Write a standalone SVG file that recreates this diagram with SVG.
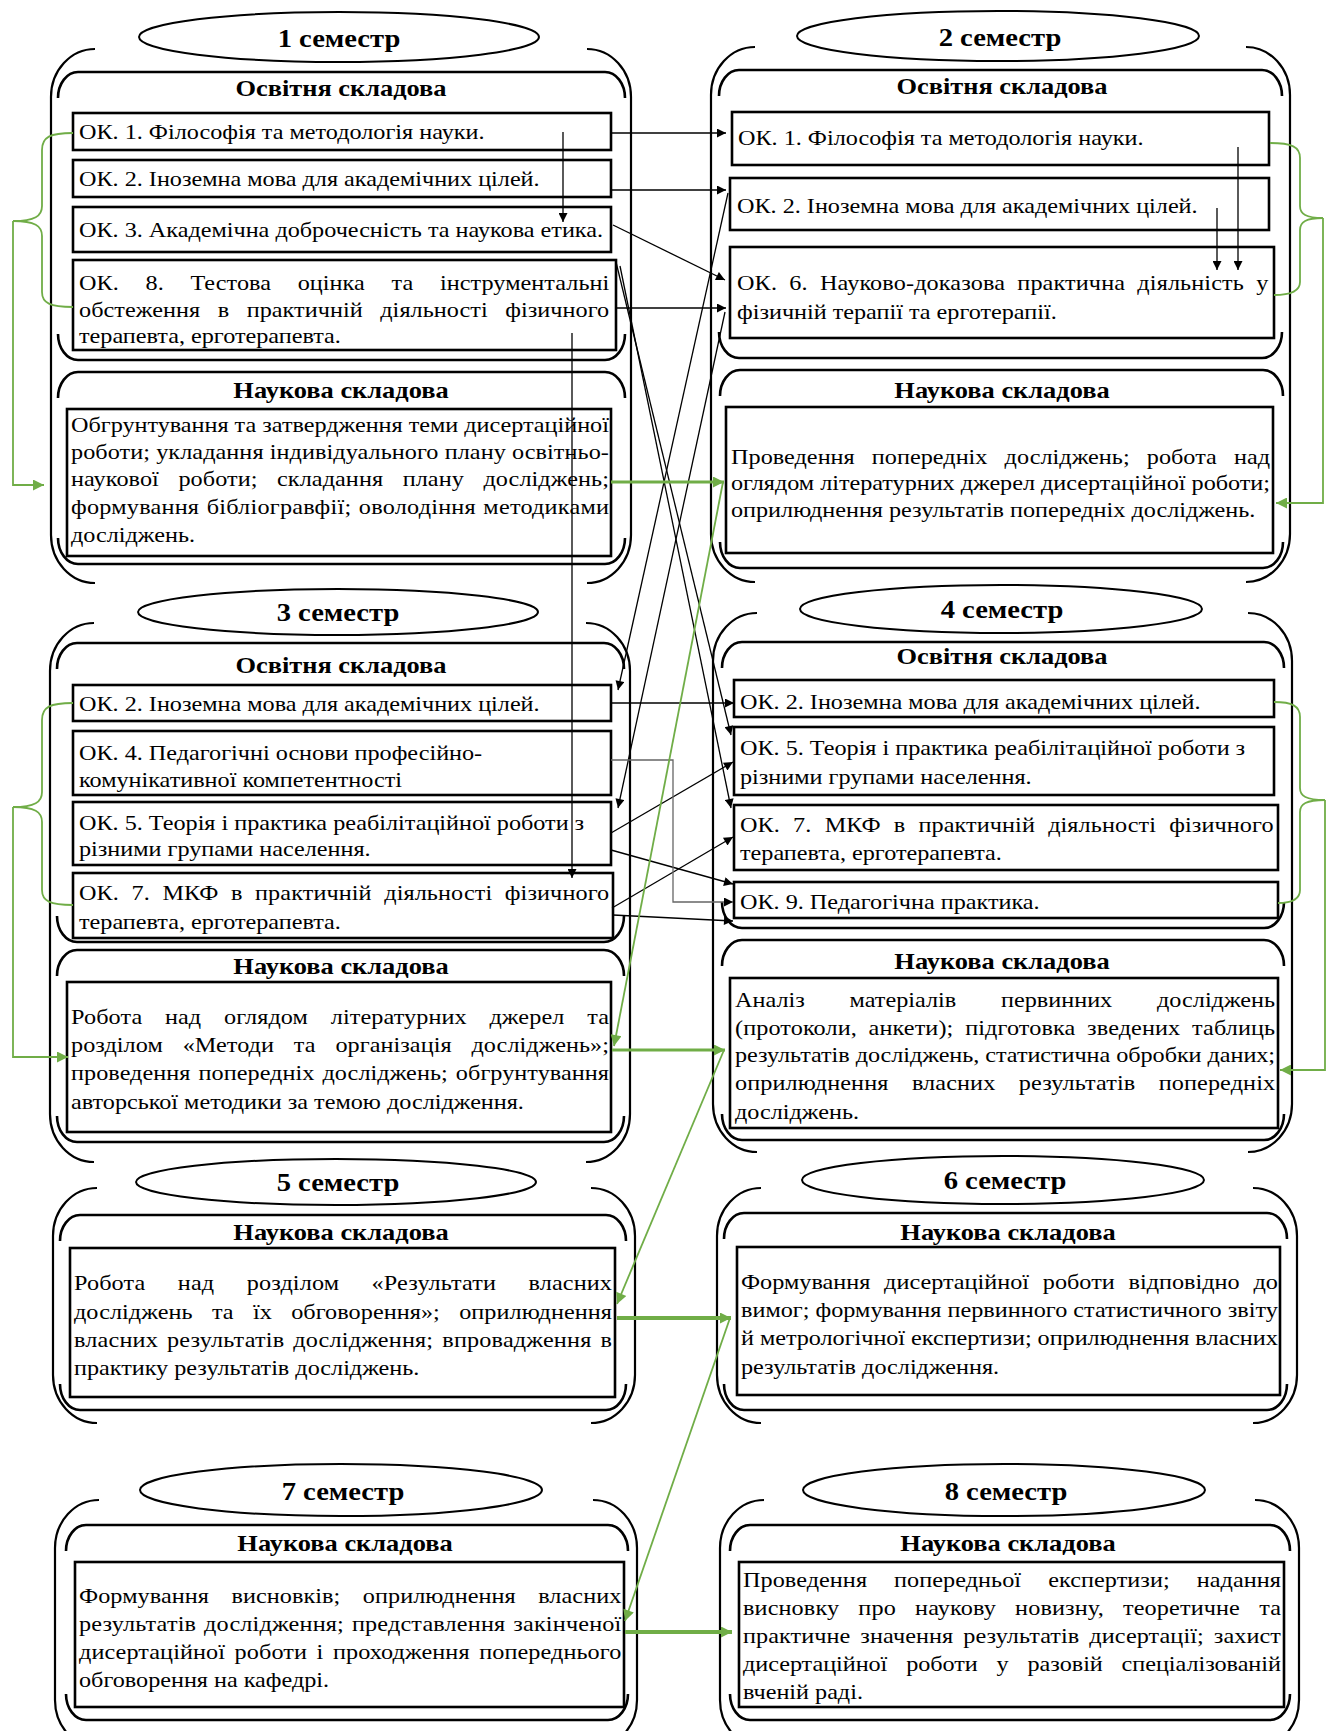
<svg xmlns="http://www.w3.org/2000/svg" width="1331" height="1731" viewBox="0 0 1331 1731">
<style>
.bg{fill:#fff}
.ob{fill:none;stroke:#000;stroke-width:2.2}
.ib{fill:none;stroke:#000;stroke-width:2.6}
.bx{fill:#fff;stroke:#000;stroke-width:2.6}
.el{fill:#fff;stroke:#000;stroke-width:2}
.t{font-family:"Liberation Serif","Times New Roman",serif;font-size:22px;fill:#000}
.h{font-family:"Liberation Serif","Times New Roman",serif;font-size:24px;font-weight:bold;text-anchor:middle;fill:#000}
.s{font-family:"Liberation Serif","Times New Roman",serif;font-size:26px;font-weight:bold;text-anchor:middle;fill:#000}
.c{fill:none;stroke:#000;stroke-width:1.3;marker-end:url(#ab)}
.cg{fill:none;stroke:#666;stroke-width:1.3;marker-end:url(#ab)}
.g{fill:none;stroke:#70AD47;stroke-width:1.8}
.ga{fill:none;stroke:#70AD47;stroke-width:1.8;marker-end:url(#ag)}
.g3{fill:none;stroke:#70AD47;stroke-width:3;marker-end:url(#ag)}
.g4{fill:none;stroke:#70AD47;stroke-width:4;marker-end:url(#ag)}
</style>
<defs>
<marker id="ab" viewBox="0 0 10 10" refX="10" refY="5" markerWidth="11" markerHeight="9" markerUnits="userSpaceOnUse" orient="auto"><path d="M0,0 L10,5 L0,10 z" fill="#000"/></marker>
<marker id="ag" viewBox="0 0 10 10" refX="10" refY="5" markerWidth="13" markerHeight="11" markerUnits="userSpaceOnUse" orient="auto"><path d="M0,0 L10,5 L0,10 z" fill="#70AD47"/></marker>
</defs>
<rect class="bg" x="0" y="0" width="1331" height="1731"/>

<!-- Semester 1 -->
<g id="sem1">
<path class="ob" d="M95,49 A44,48 0 0 0 51,97 V535 A44,48 0 0 0 95,583 M587,49 A44,48 0 0 1 631,97 V535 A44,48 0 0 1 587,583"/>
<ellipse class="el" cx="339" cy="37" rx="200" ry="25"/>
<text class="s" transform="translate(339 47) scale(1.1 1)">1 семестр</text>
<g id="sem1-osv">
<path class="ib" d="M58,98 A20,26 0 0 1 78,72 H605 A20,26 0 0 1 625,98 M58,334 A20,26 0 0 0 78,360 H605 A20,26 0 0 0 625,334"/>
<text class="h" transform="translate(341 96) scale(1.1 1)">Освітня складова</text>
</g>
<g id="s1-ok1"><rect class="bx" x="73" y="113" width="538" height="37"/><text class="t" transform="translate(79 139) scale(1.1 1)">ОК. 1. Філософія та методологія науки.</text></g>
<g id="s1-ok2"><rect class="bx" x="73" y="160" width="538" height="37"/><text class="t" transform="translate(79 186) scale(1.1 1)">ОК. 2. Іноземна мова для академічних цілей.</text></g>
<g id="s1-ok3"><rect class="bx" x="73" y="207" width="538" height="45"/><text class="t" transform="translate(79 237) scale(1.1 1)">ОК. 3. Академічна доброчесність та наукова етика.</text></g>
<g id="s1-ok8"><rect class="bx" x="73" y="260" width="543" height="90"/>
<text class="t" transform="translate(79 290) scale(1.1 1)" style="word-spacing:18.7px" textLength="482" lengthAdjust="spacing">ОК. 8. Тестова оцінка та інструментальні</text>
<text class="t" transform="translate(79 317) scale(1.1 1)" style="word-spacing:10.4px" textLength="482" lengthAdjust="spacing">обстеження в практичній діяльності фізичного</text>
<text class="t" transform="translate(79 343) scale(1.1 1)">терапевта, ерготерапевта.</text></g>
<g id="s1-nauk">
<path class="ib" d="M58,398 A20,26 0 0 1 78,372 H605 A20,26 0 0 1 625,398 M58,538 A20,26 0 0 0 78,564 H605 A20,26 0 0 0 625,538"/>
<text class="h" transform="translate(341 398) scale(1.1 1)">Наукова складова</text>
<rect class="bx" x="67" y="409" width="544" height="147"/>
<text class="t" transform="translate(71 432) scale(1.1 1)" textLength="489" lengthAdjust="spacing">Обгрунтування та затвердження теми дисертаційної</text>
<text class="t" transform="translate(71 459) scale(1.1 1)" textLength="489" lengthAdjust="spacing">роботи; укладання індивідуального плану освітньо-</text>
<text class="t" transform="translate(71 486) scale(1.1 1)" style="word-spacing:12.2px" textLength="489" lengthAdjust="spacing">наукової роботи; складання плану досліджень;</text>
<text class="t" transform="translate(71 514) scale(1.1 1)" style="word-spacing:1px" textLength="489" lengthAdjust="spacing">формування бібліогравфії; оволодіння методиками</text>
<text class="t" transform="translate(71 542) scale(1.1 1)">досліджень.</text>
</g>
</g>

<!-- Semester 2 -->
<g id="sem2">
<path class="ob" d="M755,47 A44,48 0 0 0 711,95 V534 A44,48 0 0 0 755,582 M1246,47 A44,48 0 0 1 1290,95 V534 A44,48 0 0 1 1246,582"/>
<ellipse class="el" cx="998" cy="36" rx="201" ry="25"/>
<text class="s" transform="translate(1000 46) scale(1.1 1)">2 семестр</text>
<g id="sem2-osv">
<path class="ib" d="M719,96 A20,26 0 0 1 739,70 H1262 A20,26 0 0 1 1282,96 M719,332 A20,26 0 0 0 739,358 H1262 A20,26 0 0 0 1282,332"/>
<text class="h" transform="translate(1002 94) scale(1.1 1)">Освітня складова</text>
</g>
<g id="s2-ok1"><rect class="bx" x="732" y="112" width="537" height="53"/><text class="t" transform="translate(738 145) scale(1.1 1)">ОК. 1. Філософія та методологія науки.</text></g>
<g id="s2-ok2"><rect class="bx" x="730" y="178" width="539" height="52"/><text class="t" transform="translate(737 213) scale(1.1 1)">ОК. 2. Іноземна мова для академічних цілей.</text></g>
<g id="s2-ok6"><rect class="bx" x="730" y="247" width="544" height="91"/>
<text class="t" transform="translate(737 290) scale(1.1 1)" style="word-spacing:5.5px" textLength="483" lengthAdjust="spacing">ОК. 6. Науково-доказова практична діяльність у</text>
<text class="t" transform="translate(737 319) scale(1.1 1)">фізичній терапії та ерготерапії.</text></g>
<g id="s2-nauk">
<path class="ib" d="M720,396 A20,26 0 0 1 740,370 H1263 A20,26 0 0 1 1283,396 M720,542 A20,26 0 0 0 740,568 H1263 A20,26 0 0 0 1283,542"/>
<text class="h" transform="translate(1002 398) scale(1.1 1)">Наукова складова</text>
<rect class="bx" x="726" y="407" width="547" height="146"/>
<text class="t" transform="translate(731 464) scale(1.1 1)" style="word-spacing:10px" textLength="490" lengthAdjust="spacing">Проведення попередніх досліджень; робота над</text>
<text class="t" transform="translate(731 490) scale(1.1 1)" textLength="490" lengthAdjust="spacing">оглядом літературних джерел дисертаційної роботи;</text>
<text class="t" transform="translate(731 517) scale(1.1 1)">оприлюднення результатів попередніх досліджень.</text>
</g>
</g>

<!-- Semester 3 -->
<g id="sem3">
<path class="ob" d="M94,623 A44,48 0 0 0 50,671 V1114 A44,48 0 0 0 94,1162 M586,623 A44,48 0 0 1 630,671 V1114 A44,48 0 0 1 586,1162"/>
<ellipse class="el" cx="338" cy="612" rx="200" ry="23"/>
<text class="s" transform="translate(338 621) scale(1.1 1)">3 семестр</text>
<g id="sem3-osv">
<path class="ib" d="M57,669 A20,26 0 0 1 77,643 H604 A20,26 0 0 1 624,669 M57,916 A20,26 0 0 0 77,942 H604 A20,26 0 0 0 624,916"/>
<text class="h" transform="translate(341 673) scale(1.1 1)">Освітня складова</text>
</g>
<g id="s3-ok2"><rect class="bx" x="73" y="685" width="538" height="36"/><text class="t" transform="translate(79 711) scale(1.1 1)">ОК. 2. Іноземна мова для академічних цілей.</text></g>
<g id="s3-ok4"><rect class="bx" x="73" y="731" width="538" height="64"/>
<text class="t" transform="translate(79 760) scale(1.1 1)">ОК. 4. Педагогічні основи професійно-</text>
<text class="t" transform="translate(79 787) scale(1.1 1)">комунікативної компетентності</text></g>
<g id="s3-ok5"><rect class="bx" x="73" y="802" width="538" height="63"/>
<text class="t" transform="translate(79 830) scale(1.1 1)">ОК. 5. Теорія і практика реабілітаційної роботи з</text>
<text class="t" transform="translate(79 856) scale(1.1 1)">різними групами населення.</text></g>
<g id="s3-ok7"><rect class="bx" x="73" y="873" width="540" height="65"/>
<text class="t" transform="translate(79 900) scale(1.1 1)" style="word-spacing:5.8px" textLength="482" lengthAdjust="spacing">ОК. 7. МКФ в практичній діяльності фізичного</text>
<text class="t" transform="translate(79 929) scale(1.1 1)">терапевта, ерготерапевта.</text></g>
<g id="s3-nauk">
<path class="ib" d="M57,976 A20,26 0 0 1 77,950 H604 A20,26 0 0 1 624,976 M57,1116 A20,26 0 0 0 77,1142 H604 A20,26 0 0 0 624,1116"/>
<text class="h" transform="translate(341 974) scale(1.1 1)">Наукова складова</text>
<rect class="bx" x="67" y="982" width="544" height="150"/>
<text class="t" transform="translate(71 1024) scale(1.1 1)" style="word-spacing:15.1px" textLength="489" lengthAdjust="spacing">Робота над оглядом літературних джерел та</text>
<text class="t" transform="translate(71 1052) scale(1.1 1)" style="word-spacing:12.5px" textLength="489" lengthAdjust="spacing">розділом «Методи та організація досліджень»;</text>
<text class="t" transform="translate(71 1080) scale(1.1 1)" style="word-spacing:1.8px" textLength="489" lengthAdjust="spacing">проведення попередніх досліджень; обгрунтування</text>
<text class="t" transform="translate(71 1109) scale(1.1 1)">авторської методики за темою дослідження.</text>
</g>
</g>

<!-- Semester 4 -->
<g id="sem4">
<path class="ob" d="M757,613 A44,48 0 0 0 713,661 V1104 A44,48 0 0 0 757,1152 M1248,613 A44,48 0 0 1 1292,661 V1104 A44,48 0 0 1 1248,1152"/>
<ellipse class="el" cx="1001" cy="609" rx="201" ry="24"/>
<text class="s" transform="translate(1002 618) scale(1.1 1)">4 семестр</text>
<g id="sem4-osv">
<path class="ib" d="M722,668 A20,26 0 0 1 742,642 H1264 A20,26 0 0 1 1284,668 M722,902 A20,26 0 0 0 742,928 H1264 A20,26 0 0 0 1284,902"/>
<text class="h" transform="translate(1002 664) scale(1.1 1)">Освітня складова</text>
</g>
<g id="s4-ok2"><rect class="bx" x="734" y="680" width="540" height="37"/><text class="t" transform="translate(740 709) scale(1.1 1)">ОК. 2. Іноземна мова для академічних цілей.</text></g>
<g id="s4-ok5"><rect class="bx" x="734" y="727" width="540" height="68"/>
<text class="t" transform="translate(740 755) scale(1.1 1)">ОК. 5. Теорія і практика реабілітаційної роботи з</text>
<text class="t" transform="translate(740 784) scale(1.1 1)">різними групами населення.</text></g>
<g id="s4-ok7"><rect class="bx" x="734" y="805" width="544" height="65"/>
<text class="t" transform="translate(740 832) scale(1.1 1)" style="word-spacing:6.4px" textLength="485" lengthAdjust="spacing">ОК. 7. МКФ в практичній діяльності фізичного</text>
<text class="t" transform="translate(740 860) scale(1.1 1)">терапевта, ерготерапевта.</text></g>
<g id="s4-ok9"><rect class="bx" x="734" y="882" width="544" height="36"/><text class="t" transform="translate(740 909) scale(1.1 1)">ОК. 9. Педагогічна практика.</text></g>
<g id="s4-nauk">
<path class="ib" d="M722,966 A20,26 0 0 1 742,940 H1264 A20,26 0 0 1 1284,966 M722,1114 A20,26 0 0 0 742,1140 H1264 A20,26 0 0 0 1284,1114"/>
<text class="h" transform="translate(1002 969) scale(1.1 1)">Наукова складова</text>
<rect class="bx" x="730" y="978" width="548" height="150"/>
<text class="t" transform="translate(735 1007) scale(1.1 1)" style="word-spacing:35.2px" textLength="491" lengthAdjust="spacing">Аналіз матеріалів первинних досліджень</text>
<text class="t" transform="translate(735 1035) scale(1.1 1)" style="word-spacing:5.1px" textLength="491" lengthAdjust="spacing">(протоколи, анкети); підготовка зведених таблиць</text>
<text class="t" transform="translate(735 1062) scale(1.1 1)" textLength="491" lengthAdjust="spacing">результатів досліджень, статистична обробки даних;</text>
<text class="t" transform="translate(735 1090) scale(1.1 1)" style="word-spacing:15.7px" textLength="491" lengthAdjust="spacing">оприлюднення власних результатів попередніх</text>
<text class="t" transform="translate(735 1119) scale(1.1 1)">досліджень.</text>
</g>
</g>

<!-- Semester 5 -->
<g id="sem5">
<path class="ob" d="M97,1188 A44,48 0 0 0 53,1236 V1375 A44,48 0 0 0 97,1423 M591,1188 A44,48 0 0 1 635,1236 V1375 A44,48 0 0 1 591,1423"/>
<ellipse class="el" cx="336" cy="1182" rx="200" ry="23"/>
<text class="s" transform="translate(338 1191) scale(1.1 1)">5 семестр</text>
<g id="s5-nauk">
<path class="ib" d="M60,1241 A20,26 0 0 1 80,1215 H606 A20,26 0 0 1 626,1241 M60,1384 A20,26 0 0 0 80,1410 H606 A20,26 0 0 0 626,1384"/>
<text class="h" transform="translate(341 1240) scale(1.1 1)">Наукова складова</text>
<rect class="bx" x="70" y="1248" width="545" height="149"/>
<text class="t" transform="translate(74 1290) scale(1.1 1)" style="word-spacing:23.9px" textLength="489" lengthAdjust="spacing">Робота над розділом «Результати власних</text>
<text class="t" transform="translate(74 1319) scale(1.1 1)" style="word-spacing:12px" textLength="489" lengthAdjust="spacing">досліджень та їх обговорення»; оприлюднення</text>
<text class="t" transform="translate(74 1347) scale(1.1 1)" style="word-spacing:2.5px" textLength="489" lengthAdjust="spacing">власних результатів дослідження; впровадження в</text>
<text class="t" transform="translate(74 1375) scale(1.1 1)">практику результатів досліджень.</text>
</g>
</g>

<!-- Semester 6 -->
<g id="sem6">
<path class="ob" d="M761,1188 A44,48 0 0 0 717,1236 V1375 A44,48 0 0 0 761,1423 M1253,1188 A44,48 0 0 1 1297,1236 V1375 A44,48 0 0 1 1253,1423"/>
<ellipse class="el" cx="1003" cy="1180" rx="201" ry="24"/>
<text class="s" transform="translate(1005 1189) scale(1.1 1)">6 семестр</text>
<g id="s6-nauk">
<path class="ib" d="M724,1239 A20,26 0 0 1 744,1213 H1267 A20,26 0 0 1 1287,1239 M724,1384 A20,26 0 0 0 744,1410 H1267 A20,26 0 0 0 1287,1384"/>
<text class="h" transform="translate(1008 1240) scale(1.1 1)">Наукова складова</text>
<rect class="bx" x="737" y="1247" width="543" height="148"/>
<text class="t" transform="translate(741 1289) scale(1.1 1)" style="word-spacing:7px" textLength="488" lengthAdjust="spacing">Формування дисертаційної роботи відповідно до</text>
<text class="t" transform="translate(741 1317) scale(1.1 1)" textLength="488" lengthAdjust="spacing">вимог; формування первинного статистичного звіту</text>
<text class="t" transform="translate(741 1345) scale(1.1 1)" textLength="488" lengthAdjust="spacing">й метрологічної експертизи; оприлюднення власних</text>
<text class="t" transform="translate(741 1374) scale(1.1 1)">результатів дослідження.</text>
</g>
</g>

<!-- Semester 7 -->
<g id="sem7">
<path class="ob" d="M99,1500 A44,48 0 0 0 55,1548 V1700 A44,48 0 0 0 99,1748 M593,1500 A44,48 0 0 1 637,1548 V1700 A44,48 0 0 1 593,1748"/>
<ellipse class="el" cx="341" cy="1490" rx="201" ry="26"/>
<text class="s" transform="translate(343 1500) scale(1.1 1)">7 семестр</text>
<g id="s7-nauk">
<path class="ib" d="M66,1551 A20,26 0 0 1 86,1525 H608 A20,26 0 0 1 628,1551 M66,1694 A20,26 0 0 0 86,1720 H608 A20,26 0 0 0 628,1694"/>
<text class="h" transform="translate(345 1551) scale(1.1 1)">Наукова складова</text>
<rect class="bx" x="75" y="1562" width="549" height="145"/>
<text class="t" transform="translate(79 1603) scale(1.1 1)" style="word-spacing:14.8px" textLength="493" lengthAdjust="spacing">Формування висновків; оприлюднення власних</text>
<text class="t" transform="translate(79 1631) scale(1.1 1)" style="word-spacing:1.5px" textLength="493" lengthAdjust="spacing">результатів дослідження; представлення закінченої</text>
<text class="t" transform="translate(79 1659) scale(1.1 1)" style="word-spacing:3.1px" textLength="493" lengthAdjust="spacing">дисертаційної роботи і проходження попереднього</text>
<text class="t" transform="translate(79 1687) scale(1.1 1)">обговорення на кафедрі.</text>
</g>
</g>

<!-- Semester 8 -->
<g id="sem8">
<path class="ob" d="M764,1500 A44,48 0 0 0 720,1548 V1700 A44,48 0 0 0 764,1748 M1255,1500 A44,48 0 0 1 1299,1548 V1700 A44,48 0 0 1 1255,1748"/>
<ellipse class="el" cx="1004" cy="1490" rx="201" ry="26"/>
<text class="s" transform="translate(1006 1500) scale(1.1 1)">8 семестр</text>
<g id="s8-nauk">
<path class="ib" d="M730,1551 A20,26 0 0 1 750,1525 H1270 A20,26 0 0 1 1290,1551 M730,1694 A20,26 0 0 0 750,1720 H1270 A20,26 0 0 0 1290,1694"/>
<text class="h" transform="translate(1008 1551) scale(1.1 1)">Наукова складова</text>
<rect class="bx" x="739" y="1562" width="545" height="145"/>
<text class="t" transform="translate(743 1587) scale(1.1 1)" style="word-spacing:19px" textLength="489" lengthAdjust="spacing">Проведення попередньої експертизи; надання</text>
<text class="t" transform="translate(743 1615) scale(1.1 1)" style="word-spacing:11.8px" textLength="489" lengthAdjust="spacing">висновку про наукову новизну, теоретичне та</text>
<text class="t" transform="translate(743 1643) scale(1.1 1)" style="word-spacing:3.5px" textLength="489" lengthAdjust="spacing">практичне значення результатів дисертації; захист</text>
<text class="t" transform="translate(743 1671) scale(1.1 1)" style="word-spacing:11.7px" textLength="489" lengthAdjust="spacing">дисертаційної роботи у разовій спеціалізованій</text>
<text class="t" transform="translate(743 1699) scale(1.1 1)">вченій раді.</text>
</g>
</g>

<!-- Connectors -->
<g id="connectors">
<path class="c" d="M611,133 H726"/>
<path class="c" d="M611,190 H726"/>
<path class="c" d="M563,132 V222"/>
<path class="c" d="M613,225 L725,280"/>
<path class="c" d="M616,308 H726"/>
<path class="c" d="M1238,147 V270"/>
<path class="c" d="M1217,208 V270"/>
<path class="c" d="M728,193 L618,690"/>
<path class="c" d="M725,312 L618,808"/>
<path class="c" d="M616,262 L731,735"/>
<path class="c" d="M620,266 L731,808"/>
<path class="c" d="M572,333 V878"/>
<path class="c" d="M611,703 H734"/>
<path class="c" d="M611,833 L733,762"/>
<path class="c" d="M612,908 L733,837"/>
<path class="c" d="M611,850 L733,884"/>
<path class="cg" d="M611,760 H673 V902 H733"/>
<path class="c" d="M613,915 L733,921"/>

<path class="g" d="M73,133 C50,133 42,137 42,150 V206 C42,216 35,221 13,221 C35,221 42,226 42,236 V292 C42,303 50,307 73,307"/>
<path class="ga" d="M13,221 V485 H44"/>
<path class="g" d="M1270,143 C1292,143 1300,147 1300,158 V206 C1300,214 1306,218 1323,218 C1306,218 1300,222 1300,230 V282 C1300,291 1292,295 1274,295"/>
<path class="ga" d="M1323,218 V503 H1276"/>
<path class="g" d="M73,703 C50,703 42,707 42,720 V792 C42,802 35,807 13,807 C35,807 42,812 42,822 V890 C42,901 50,905 73,905"/>
<path class="ga" d="M13,807 V1057 H68"/>
<path class="g" d="M1274,702 C1292,702 1300,706 1300,717 V788 C1300,796 1306,800 1325,800 C1306,800 1300,804 1300,812 V890 C1300,899 1292,903 1278,903"/>
<path class="ga" d="M1325,800 V1070 H1280"/>

<path class="g3" d="M611,482 H724"/>
<path class="ga" d="M723,482 L614,1046"/>
<path class="g3" d="M612,1050 H725"/>
<path class="ga" d="M724,1050 L617,1304"/>
<path class="g4" d="M617,1318 H731"/>
<path class="ga" d="M730,1318 L625,1621"/>
<path class="g4" d="M625,1632 H732"/>
</g>
</svg>
